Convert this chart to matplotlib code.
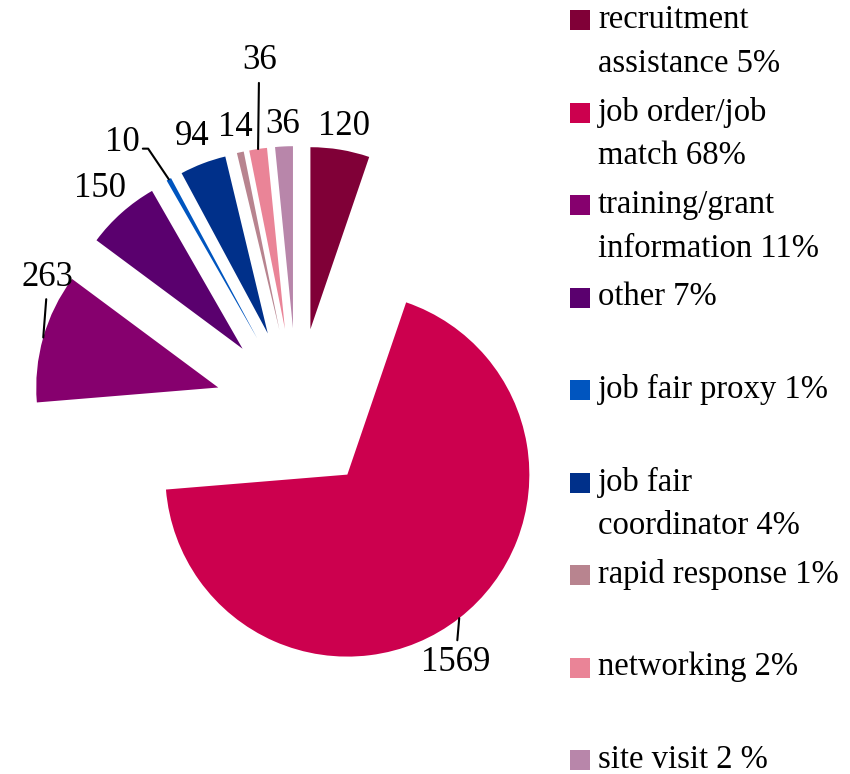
import numpy as np
import matplotlib
matplotlib.use("Agg")
from matplotlib import pyplot as plt
from matplotlib.patches import Rectangle

labels = ['recruitment\nassistance 5%', 'job order/job\nmatch 68%', 'training/grant\ninformation 11%',
          'other 7%', 'job fair proxy 1%', 'job fair\ncoordinator 4%', 'rapid response 1%',
          'networking 2%', 'site visit 2 %']
values = [120, 1569, 263, 150, 10, 94, 14, 36, 36]
colors = ['#800037', '#CC004E', '#86006E', '#5A006E', '#0055BF', '#00308A',
          '#B8848F', '#EA8497', '#B886AA']

# label placement tweaks for crowded slices: (angle nudge in deg, distance, leader line)
nudge = [0, 8, 17, 0, -5.5, 0, 0, 3, 0]
dist = [1.13, 1.19, 1.115, 1.18, 1.31, 1.16, 1.14, 1.48, 1.12]
leader = [False, True, True, False, True, False, False, True, False]

plt.rcParams['font.family'] = ['Liberation Serif', 'DejaVu Serif']
W, H = 850, 774
fig = plt.figure(figsize=(W / 100, H / 100), dpi=100)
ax = fig.add_axes([0, 0, 1, 1])

explode = [0.45] * len(values)
wedges, _ = ax.pie(values, colors=colors, explode=explode, startangle=90,
                   counterclock=False, radius=1, wedgeprops=dict(linewidth=0))

R = 182.0  # pixels per data unit
ax.set_xlim(-297 / R, (W - 297) / R)
ax.set_ylim(-(H - 410) / R, 410 / R)
ax.axis('off')

fs = 25
for i, w in enumerate(wedges):
    mid = np.deg2rad((w.theta1 + w.theta2) / 2)
    cx, cy = w.center
    ang = mid + np.deg2rad(-nudge[i])
    tx, ty = cx + dist[i] * np.cos(ang), cy + dist[i] * np.sin(ang)
    if leader[i]:
        ex, ey = cx + np.cos(mid), cy + np.sin(mid)
        if i == 4:
            ax.annotate(str(values[i]), xy=(ex, ey), xytext=(tx, ty), fontsize=fs,
                        ha='center', va='center',
                        arrowprops=dict(arrowstyle='-', lw=1.5, color='black',
                                        shrinkA=0, shrinkB=0, relpos=(1.1, 0.3),
                                        connectionstyle='angle,angleA=0,angleB=124,rad=0'))
        else:
            ax.annotate(str(values[i]), xy=(ex, ey), xytext=(tx, ty), fontsize=fs,
                        ha='center', va='center',
                        arrowprops=dict(arrowstyle='-', lw=1.5, color='black',
                                        shrinkA=2, shrinkB=0))
    else:
        ax.text(tx, ty, str(values[i]), fontsize=fs, ha='center', va='center')

# legend, square next to first line of each entry
for i, (lab, c) in enumerate(zip(labels, colors)):
    base = 28 + 92.5 * i
    fig.add_artist(Rectangle((570 / W, 1 - (base + 2) / H), 20 / W, 20 / H,
                             transform=fig.transFigure, color=c, lw=0))
    for k, line in enumerate(lab.split('\n')):
        fig.text(598 / W, 1 - (base + 44 * k) / H, line, fontsize=23.5,
                 ha='left', va='baseline')

fig.savefig('out.png', dpi=100)
